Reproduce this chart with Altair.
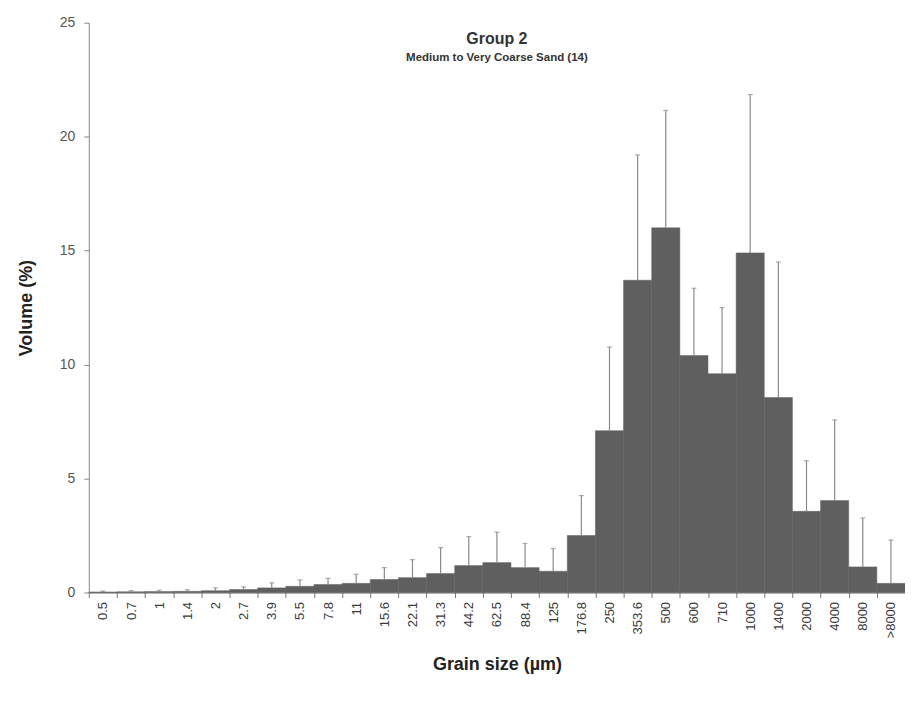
import altair as alt
import pandas as pd

grain_sizes = ["0.5", "0.7", "1", "1.4", "2", "2.7", "3.9", "5.5", "7.8", "11", "15.6", "22.1",
               "31.3", "44.2", "62.5", "88.4", "125", "176.8", "250", "353.6", "500", "600",
               "710", "1000", "1400", "2000", "4000", "8000", ">8000"]
volume = [0.02, 0.03, 0.04, 0.05, 0.08, 0.13, 0.20, 0.27, 0.35, 0.40, 0.57, 0.65,
          0.83, 1.18, 1.31, 1.09, 0.93, 2.50, 7.10, 13.70, 16.00, 10.40,
          9.60, 14.90, 8.55, 3.56, 4.03, 1.12, 0.40]
std_dev = [0.04, 0.05, 0.06, 0.07, 0.12, 0.12, 0.22, 0.28, 0.27, 0.40, 0.52, 0.79,
           1.14, 1.27, 1.34, 1.06, 1.00, 1.75, 3.67, 5.50, 5.15, 2.95,
           2.90, 6.95, 5.95, 2.22, 3.54, 2.15, 1.90]

df = pd.DataFrame({"size": grain_sizes, "vol": volume, "sd": std_dev})
df["top"] = df["vol"] + df["sd"]

FONT = "Liberation Sans"
W, H = 818, 571

x_enc = alt.X("size:N", sort=grain_sizes,
              scale=alt.Scale(paddingInner=0, paddingOuter=0),
              axis=alt.Axis(title="Grain size (µm)", labelAngle=-90, tickBand="extent",
                            labelFontSize=13, labelColor="#3a3a3a", labelFont=FONT,
                            titleFont=FONT, titleFontSize=18, titleFontWeight="bold",
                            titleColor="#222", titlePadding=18, domainColor="#555",
                            tickColor="#777", tickSize=5, labelPadding=4))
y_scale = alt.Scale(domain=[0, 25], nice=False)

base = alt.Chart(df)

bars = base.mark_bar(color="#5f5f5f", stroke="#5f5f5f", strokeWidth=0.5).encode(
    x=x_enc,
    y=alt.Y("vol:Q", scale=y_scale,
            axis=alt.Axis(title="Volume (%)", values=[0, 5, 10, 15, 20, 25], grid=False,
                          labelFontSize=14, labelColor="#555", labelFont=FONT,
                          titleFont=FONT, titleFontSize=18, titleFontWeight="bold",
                          titleColor="#222", titlePadding=24, domainColor="#888",
                          tickColor="#888", tickSize=5, labelPadding=9)),
)

err = base.mark_rule(color="#8a8a8a", strokeWidth=1.2).encode(
    x=alt.X("size:N", sort=grain_sizes),
    y=alt.Y("vol:Q", scale=y_scale),
    y2="top:Q",
)

caps = base.mark_tick(color="#8a8a8a", size=5, thickness=1.2, orient="horizontal").encode(
    x=alt.X("size:N", sort=grain_sizes),
    y=alt.Y("top:Q", scale=y_scale),
)

title_df = pd.DataFrame({"t": ["Group 2"]})
sub_df = pd.DataFrame({"t": ["Medium to Very Coarse Sand (14)"]})
title_txt = alt.Chart(title_df).mark_text(font=FONT, fontSize=16, fontWeight="bold",
                                          color="#333", align="center").encode(
    text="t:N", x=alt.value(W / 2), y=alt.value(16))
sub_txt = alt.Chart(sub_df).mark_text(font=FONT, fontSize=11.5, fontWeight="bold",
                                      color="#333", align="center").encode(
    text="t:N", x=alt.value(W / 2), y=alt.value(35))

chart = alt.layer(bars, err, caps, title_txt, sub_txt).properties(
    width=W, height=H,
    autosize=alt.AutoSizeParams(type="none"),
    padding={"left": 81, "top": 14, "right": 0, "bottom": 100},
).configure_view(stroke=None).configure_axis(grid=False)

chart.save("out.html", embed_options={"renderer": "svg", "actions": False})
